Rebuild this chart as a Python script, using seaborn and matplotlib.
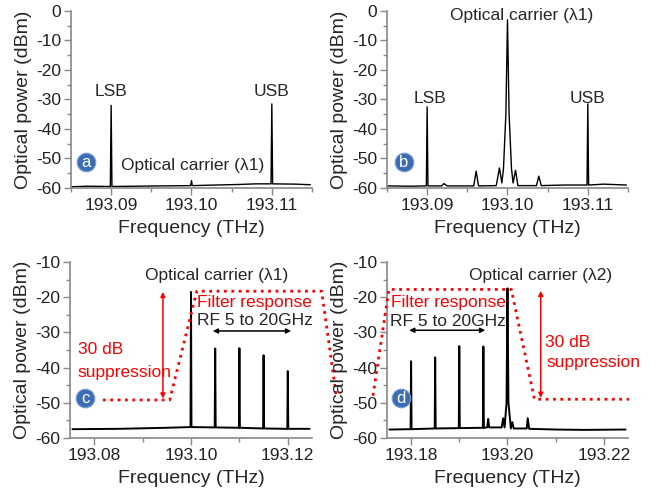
import numpy as np
import pandas as pd
import seaborn as sns
import matplotlib
matplotlib.use("Agg")
import matplotlib.pyplot as plt
from matplotlib.ticker import AutoMinorLocator, FormatStrFormatter, MultipleLocator

# spectra (THz, dBm)
a_freq = [193.0850, 193.0870, 193.0899, 193.0900, 193.0901, 193.0930, 193.0960, 193.0999,
          193.1000, 193.1001, 193.1030, 193.1060, 193.1080, 193.1099, 193.1100, 193.1101,
          193.1130, 193.1148]
a_dbm = [-59.6, -59.4, -59.5, -32.0, -59.5, -59.4, -59.3, -59.2,
         -57.5, -59.2, -59.0, -58.8, -58.6, -58.6, -31.5, -58.6,
         -58.7, -58.9]

b_freq = [193.0850, 193.0880, 193.0899, 193.0900, 193.0901, 193.0918, 193.0921, 193.0925,
          193.0958, 193.0961, 193.0964, 193.0986, 193.0990, 193.0993, 193.0995, 193.0998,
          193.1000, 193.1002, 193.1005, 193.1007, 193.1010, 193.1013, 193.1036, 193.1039,
          193.1042, 193.1070, 193.1099, 193.1100, 193.1101, 193.1120, 193.1148]
b_dbm = [-59.3, -59.4, -59.3, -32.5, -59.3, -59.3, -58.5, -59.3,
         -59.3, -54.3, -59.3, -59.2, -53.2, -58.3, -53.5, -35.0,
         -3.0, -35.0, -53.5, -58.3, -54.0, -59.2, -59.2, -56.0,
         -59.2, -59.0, -59.0, -31.5, -59.0, -58.7, -59.0]

c_freq = [193.0755, 193.0850, 193.0950, 193.0999, 193.1000, 193.1001, 193.1049, 193.1050,
          193.1051, 193.1099, 193.1100, 193.1101, 193.1149, 193.1150, 193.1151, 193.1199,
          193.1200, 193.1201, 193.1245]
c_dbm = [-57.5, -57.4, -57.1, -56.9, -18.5, -56.9, -57.0, -34.6,
         -57.0, -57.1, -34.5, -57.1, -57.3, -36.5, -57.3, -57.4,
         -41.0, -57.4, -57.4]

d_freq = [193.1755, 193.1799, 193.1800, 193.1801, 193.1849, 193.1850, 193.1851, 193.1899,
          193.1900, 193.1901, 193.1949, 193.1950, 193.1951, 193.1958, 193.1960, 193.1962,
          193.1988, 193.1991, 193.1994, 193.1998, 193.2000, 193.2002, 193.2007, 193.2010,
          193.2013, 193.2040, 193.2042, 193.2045, 193.2100, 193.2160, 193.2245]
d_dbm = [-57.6, -57.5, -38.2, -57.5, -57.3, -37.1, -57.3, -57.2,
         -33.9, -57.2, -57.1, -34.0, -57.1, -57.0, -54.6, -57.0,
         -57.0, -54.4, -57.0, -50.0, -17.5, -50.0, -57.3, -55.5,
         -57.3, -57.3, -54.4, -57.4, -57.6, -57.7, -57.6]

# red filter outlines (dotted)
c_filter_f = [193.0818, 193.0956, 193.1012, 193.1270, 193.1301]
c_filter_p = [-49.2, -49.2, -18.3, -18.3, -48.8]
d_filter_f = [193.1721, 193.1754, 193.2008, 193.2056, 193.2252]
d_filter_p = [-48.0, -17.8, -17.8, -49.0, -49.0]

sns.set_theme(style="ticks")
plt.rcParams["font.family"] = ["Liberation Sans", "DejaVu Sans"]
plt.rcParams["axes.unicode_minus"] = False

fig = plt.figure(figsize=(6.56, 4.93), dpi=100)
ax_a = fig.add_axes([0.1082, 0.6187, 0.3674, 0.3590])
ax_b = fig.add_axes([0.5899, 0.6187, 0.3674, 0.3590])
ax_c = fig.add_axes([0.1067, 0.1116, 0.3689, 0.3570])
ax_d = fig.add_axes([0.5899, 0.1116, 0.3674, 0.3570])

panels = [
    (ax_a, a_freq, a_dbm, (193.085, 193.115), (-60, 0), 0.01, 1.0),
    (ax_b, b_freq, b_dbm, (193.085, 193.115), (-60, 0), 0.01, 1.0),
    (ax_c, c_freq, c_dbm, (193.075, 193.125), (-60, -10), 0.02, 1.4),
    (ax_d, d_freq, d_dbm, (193.175, 193.225), (-60, -10), 0.02, 1.4),
]

for ax, f, p, xl, yl, step, lw in panels:
    df = pd.DataFrame({"Frequency": f, "Power": p})
    sns.lineplot(data=df, x="Frequency", y="Power", ax=ax, color="black",
                 lw=lw, estimator=None, sort=False)
    ax.set_xlim(*xl)
    ax.set_ylim(*yl)
    ax.xaxis.set_major_locator(MultipleLocator(step))
    ax.xaxis.set_minor_locator(AutoMinorLocator(2))
    ax.yaxis.set_major_locator(MultipleLocator(10))
    ax.yaxis.set_minor_locator(AutoMinorLocator(2))
    ax.xaxis.set_major_formatter(FormatStrFormatter("%.2f"))
    ax.set_xlabel("Frequency (THz)", fontsize=14, labelpad=5)
    ax.set_ylabel("Optical power (dBm)", fontsize=14, labelpad=3)
    ax.tick_params(axis="both", which="major", labelsize=12.5, length=5,
                   width=1, color="#888888", pad=2, labelcolor="#222222")
    ax.tick_params(axis="both", which="minor", length=3, width=1, color="#888888")
    for s in ["left", "bottom"]:
        ax.spines[s].set_color("#888888")
        ax.spines[s].set_linewidth(1.2)
    sns.despine(ax=ax)
    ax.set_facecolor("white")

# badges
badge_pos = {"a": (ax_a, 193.0869, -51.2), "b": (ax_b, 193.0871, -51.2),
             "c": (ax_c, 193.0781, -48.6), "d": (ax_d, 193.1779, -48.6)}
for tag, (ax, bx, by) in badge_pos.items():
    ax.scatter([bx], [by], s=180, color="#3c6db4", edgecolor="#7d9fd3",
               linewidth=0.8, zorder=5, clip_on=False)
    ax.text(bx, by - 0.3, tag, color="white", fontsize=12, ha="center",
            va="center", zorder=6)

txt = dict(fontsize=12.5, ha="center", va="center")
# panel a
ax_a.text(193.090, -27.4, "LSB", **txt)
ax_a.text(193.110, -27.4, "USB", **txt)
ax_a.text(193.1002, -52.5, "Optical carrier (\u03bb1)", **txt)
# panel b
ax_b.text(193.0903, -29.5, "LSB", **txt)
ax_b.text(193.1100, -29.5, "USB", **txt)
ax_b.text(193.1018, -1.5, "Optical carrier (\u03bb1)", **txt)

# panel c
ax_c.plot(c_filter_f, c_filter_p, color="red", ls=":", lw=2, clip_on=False, zorder=4)
ax_c.text(193.1053, -13.7, "Optical carrier (\u03bb1)", **txt)
ax_c.text(193.1131, -21.6, "Filter response", color="red", **txt)
ax_c.text(193.1133, -26.6, "RF 5 to 20GHz", **txt)
ax_c.text(193.0766, -35.0, "30 dB", color="red", fontsize=12.5, ha="left", va="center")
ax_c.text(193.0766, -41.3, "suppression", color="red", fontsize=12.5, ha="left", va="center")
ax_c.annotate("", xy=(193.0942, -18.5), xytext=(193.0942, -48.8),
              arrowprops=dict(arrowstyle="<|-|>", color="red", lw=1.1,
                              mutation_scale=7, shrinkA=0, shrinkB=0))
ax_c.annotate("", xy=(193.1045, -29.6), xytext=(193.1207, -29.6),
              arrowprops=dict(arrowstyle="<|-|>", color="black", lw=1.1,
                              mutation_scale=7, shrinkA=0, shrinkB=0))

# panel d
ax_d.plot(d_filter_f, d_filter_p, color="red", ls=":", lw=2, clip_on=False, zorder=4)
ax_d.text(193.2069, -13.7, "Optical carrier (\u03bb2)", **txt)
ax_d.text(193.1877, -21.4, "Filter response", color="red", **txt)
ax_d.text(193.1877, -26.9, "RF 5 to 20GHz", **txt)
ax_d.text(193.2077, -32.9, "30 dB", color="red", fontsize=12.5, ha="left", va="center")
ax_d.text(193.2081, -38.6, "suppression", color="red", fontsize=12.5, ha="left", va="center")
ax_d.annotate("", xy=(193.2069, -18.2), xytext=(193.2069, -48.6),
              arrowprops=dict(arrowstyle="<|-|>", color="red", lw=1.1,
                              mutation_scale=7, shrinkA=0, shrinkB=0))
ax_d.annotate("", xy=(193.1796, -29.4), xytext=(193.1954, -29.4),
              arrowprops=dict(arrowstyle="<|-|>", color="black", lw=1.1,
                              mutation_scale=7, shrinkA=0, shrinkB=0))

fig.savefig("out.png", dpi=100, facecolor="white")
